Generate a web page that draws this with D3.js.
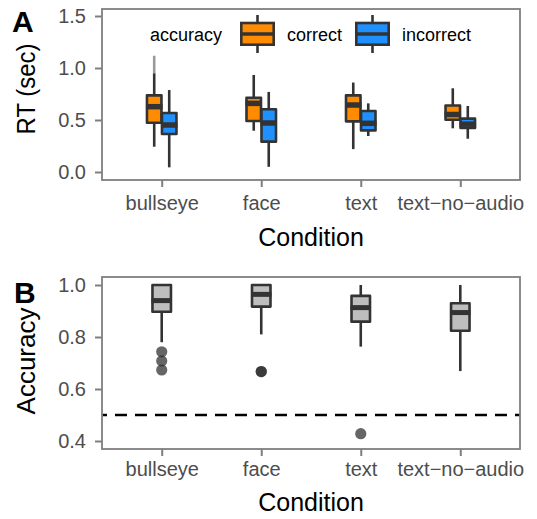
<!DOCTYPE html>
<html><head><meta charset="utf-8">
<script src="https://cdn.jsdelivr.net/npm/d3@7"></script>
<style>html,body{margin:0;padding:0;background:#fff;}svg{display:block;font-family:"Liberation Sans",Arial,sans-serif;}</style>
</head><body>
<svg id="chart" width="537" height="519"></svg>
<script>
// ---------- data ----------
const categories = ["bullseye", "face", "text", "text\u2212no\u2212audio"];
const groups = ["correct", "incorrect"];
const groupColors = ["#ff8c00", "#1e90ff"];

// Panel A: RT (sec) box statistics
const rtCorrectLow  = [0.243, 0.397, 0.220, 0.420];
const rtCorrectQ1   = [0.473, 0.490, 0.487, 0.502];
const rtCorrectMed  = [0.628, 0.660, 0.644, 0.553];
const rtCorrectQ3   = [0.737, 0.714, 0.737, 0.640];
const rtCorrectHigh = [0.949, 0.933, 0.860, 0.805];
const rtCorrectFaintHigh = [1.118, null, null, null];

const rtIncorrectLow  = [0.045, 0.050, 0.346, 0.320];
const rtIncorrectQ1   = [0.365, 0.292, 0.400, 0.423];
const rtIncorrectMed  = [0.452, 0.471, 0.468, 0.460];
const rtIncorrectQ3   = [0.567, 0.604, 0.587, 0.513];
const rtIncorrectHigh = [0.788, 0.770, 0.660, 0.635];

const rtTicks = [0.0, 0.5, 1.0, 1.5];

// Panel B: Accuracy box statistics
const accLow  = [0.780, 0.810, 0.763, 0.669];
const accQ1   = [0.897, 0.917, 0.859, 0.824];
const accMed  = [0.940, 0.964, 0.913, 0.894];
const accQ3   = [1.000, 1.000, 0.958, 0.930];
const accHigh = [1.000, 1.000, 1.000, 1.000];
const accOutliers = [[0.743, 0.708, 0.673], [0.667, 0.667], [0.428], []];
const accTicks = [0.4, 0.6, 0.8, 1.0];
const chanceLevel = 0.5;

// ---------- layout ----------
const svg = d3.select("#chart");
const panelLeft = 102, panelRight = 520;
const A = {top: 9, bottom: 180};
const B = {top: 277, bottom: 449};
const dark = "#333333";
const border = "#7f7f7f";
const tickCol = "#4d4d4d";

const x = d3.scalePoint().domain(categories).range([panelLeft, panelRight]).padding(0.6);
const yA = d3.scaleLinear().domain([0, 1.5]).range([172, 16]);
const yB = d3.scaleLinear().domain([0.4, 1.0]).range([441, 285]);

function drawBox(g, cx, w, lo, q1, med, q3, hi, fill, y, sw, medW) {
  g.append("line").attr("x1", cx).attr("x2", cx).attr("y1", y(lo)).attr("y2", y(hi))
    .attr("stroke", dark).attr("stroke-width", sw);
  g.append("rect").attr("x", cx - w / 2).attr("width", w)
    .attr("y", y(q3)).attr("height", y(q1) - y(q3))
    .attr("fill", fill).attr("stroke", dark).attr("stroke-width", sw).attr("stroke-linejoin", "round");
  g.append("line").attr("x1", cx - w / 2 - sw / 2 + 0.3).attr("x2", cx + w / 2 + sw / 2 - 0.3)
    .attr("y1", y(med)).attr("y2", y(med)).attr("stroke", dark).attr("stroke-width", medW);
}

function axes(P, y, ticks, fmt, labelBaseline) {
  const gy = svg.append("g").attr("transform", `translate(${panelLeft},0)`)
    .call(d3.axisLeft(y).tickValues(ticks).tickFormat(fmt).tickSize(7).tickPadding(9));
  gy.select(".domain").remove();
  gy.selectAll(".tick line").attr("stroke", border).attr("stroke-width", 2);
  gy.selectAll(".tick text").attr("fill", tickCol).attr("font-size", 20).attr("font-family", "Liberation Sans, Arial, sans-serif");
  const gx = svg.append("g").attr("transform", `translate(0,${P.bottom})`)
    .call(d3.axisBottom(x).tickSize(7).tickPadding(0));
  gx.select(".domain").remove();
  gx.selectAll(".tick line").attr("stroke", border).attr("stroke-width", 2);
  gx.selectAll(".tick text").attr("fill", tickCol).attr("font-size", 20)
    .attr("font-family", "Liberation Sans, Arial, sans-serif")
    .attr("dy", null).attr("y", labelBaseline - P.bottom);
  svg.append("rect").attr("x", panelLeft).attr("y", P.top)
    .attr("width", panelRight - panelLeft).attr("height", P.bottom - P.top)
    .attr("fill", "none").attr("stroke", border).attr("stroke-width", 1.8);
}

// ---------- Panel A ----------
const gA = svg.append("g");
const dodge = 7.5, wA = 14.5;
categories.forEach((c, i) => {
  const cx = x(c);
  if (rtCorrectFaintHigh[i] != null) {
    gA.append("line").attr("x1", cx - dodge).attr("x2", cx - dodge)
      .attr("y1", yA(rtCorrectHigh[i])).attr("y2", yA(rtCorrectFaintHigh[i]))
      .attr("stroke", "#9a9a9a").attr("stroke-width", 2.6);
  }
  drawBox(gA, cx - dodge, wA, rtCorrectLow[i], rtCorrectQ1[i], rtCorrectMed[i], rtCorrectQ3[i], rtCorrectHigh[i], groupColors[0], yA, 2.6, 5.5);
  drawBox(gA, cx + dodge, wA, rtIncorrectLow[i], rtIncorrectQ1[i], rtIncorrectMed[i], rtIncorrectQ3[i], rtIncorrectHigh[i], groupColors[1], yA, 2.6, 5.5);
});
axes(A, yA, rtTicks, d3.format(".1f"), 210);

// legend
svg.append("text").attr("x", 150).attr("y", 41).attr("font-size", 18).attr("fill", "#000").text("accuracy");
const legendKeys = [{x: 241.3, label: 287}, {x: 356.3, label: 402}];
groups.forEach((gname, i) => {
  const k = legendKeys[i];
  const cx = k.x + 16.2;
  svg.append("line").attr("x1", cx).attr("x2", cx).attr("y1", 15).attr("y2", 53)
    .attr("stroke", dark).attr("stroke-width", 2.6);
  svg.append("rect").attr("x", k.x).attr("y", 23).attr("width", 32.4).attr("height", 21.7)
    .attr("fill", groupColors[i]).attr("stroke", dark).attr("stroke-width", 2.6);
  svg.append("line").attr("x1", k.x - 1).attr("x2", k.x + 33.4).attr("y1", 34).attr("y2", 34)
    .attr("stroke", dark).attr("stroke-width", 3.6);
  svg.append("text").attr("x", k.label).attr("y", 41).attr("font-size", 18).attr("fill", "#000").text(gname);
});

// titles A
svg.append("text").attr("x", 12).attr("y", 32).attr("font-size", 30).attr("font-weight", "bold").text("A");
svg.append("text").attr("transform", "translate(35,89) rotate(-90)").attr("text-anchor", "middle")
  .attr("font-size", 25).attr("textLength", 91).attr("lengthAdjust", "spacingAndGlyphs").text("RT (sec)");
svg.append("text").attr("x", (panelLeft + panelRight) / 2).attr("y", 246).attr("text-anchor", "middle")
  .attr("font-size", 25).text("Condition");

// ---------- Panel B ----------
const gB = svg.append("g");
gB.append("line").attr("x1", panelLeft).attr("x2", panelRight)
  .attr("y1", yB(chanceLevel)).attr("y2", yB(chanceLevel))
  .attr("stroke", "#000").attr("stroke-width", 2.6).attr("stroke-dasharray", "12,8").attr("stroke-dashoffset", 7);
categories.forEach((c, i) => {
  const cx = x(c);
  drawBox(gB, cx, 18.5, accLow[i], accQ1[i], accMed[i], accQ3[i], accHigh[i], "#bebebe", yB, 2.6, 5);
  accOutliers[i].forEach(v => {
    gB.append("circle").attr("cx", cx).attr("cy", yB(v)).attr("r", 5.6)
      .attr("fill", "#2b2b2b").attr("fill-opacity", 0.72);
  });
});
axes(B, yB, accTicks, d3.format(".1f"), 476);

svg.append("text").attr("x", 14).attr("y", 303).attr("font-size", 30).attr("font-weight", "bold").text("B");
svg.append("text").attr("transform", "translate(35,361) rotate(-90)").attr("text-anchor", "middle")
  .attr("font-size", 26).text("Accuracy");
svg.append("text").attr("x", (panelLeft + panelRight) / 2).attr("y", 511).attr("text-anchor", "middle")
  .attr("font-size", 25).text("Condition");
</script>
</body></html>
